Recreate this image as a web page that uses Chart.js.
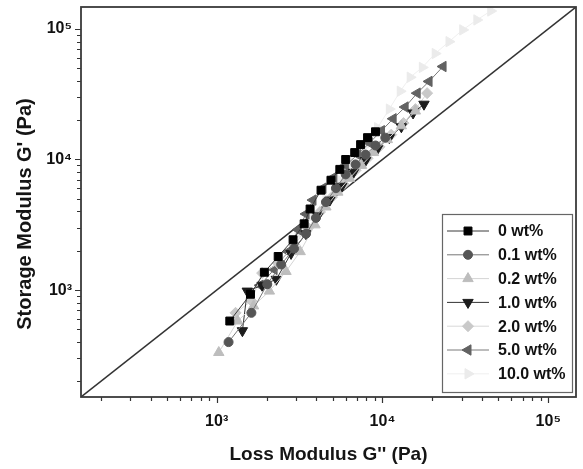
<!DOCTYPE html>
<html>
<head>
<meta charset="utf-8">
<script src="https://cdn.jsdelivr.net/npm/chart.js@4.4.1/dist/chart.umd.min.js"></script>
<style>
  html, body { margin: 0; padding: 0; background: #fff; }
</style>
</head>
<body>
<canvas id="myChart" width="583" height="469"></canvas>
<script>
// 축 범위와 눈금
const axisMin = 152;
const axisMax = 147000;
const decadeValues = [1e3, 1e4, 1e5];
const decadeLabels = ['10³', '10⁴', '10⁵'];
const tickMultipliers = [1, 2, 3, 4, 5, 6, 7, 8, 9];
const tickExponents = [2, 3, 4, 5];

// 시리즈 이름
const seriesNames = ['0 wt%', '0.1 wt%', '0.2 wt%', '1.0 wt%', '2.0 wt%', '5.0 wt%', '10.0 wt%'];

// Loss modulus G'' (x) / Storage modulus G' (y), Pa
const loss0 = [1200, 1600, 1940, 2350, 2890, 3370, 3660, 4260, 4890, 5530, 6000, 6800, 7380, 8130, 9080];
const stor0 = [580, 930, 1370, 1810, 2430, 3220, 4180, 5820, 6940, 8400, 10000, 11300, 13000, 14700, 16300];

const loss01 = [1180, 1620, 2020, 2450, 2930, 3460, 3970, 4560, 5240, 6000, 6890, 7910, 9080, 10400];
const stor01 = [400, 670, 1110, 1570, 2080, 2700, 3570, 4720, 6030, 7690, 9160, 10900, 12800, 14700];

const loss02 = [1030, 1340, 1670, 2080, 2620, 3190, 3920, 4560, 5380, 6340, 7480, 8830, 10700, 13000, 15800];
const stor02 = [333, 580, 757, 983, 1390, 1970, 3160, 4330, 5620, 7180, 9010, 11300, 14200, 18100, 23500];

const loss1 = [1430, 1530, 1880, 2290, 2810, 3460, 4080, 4820, 5680, 6700, 7910, 9330, 11000, 13000, 15300, 17800];
const stor1 = [489, 983, 1090, 1210, 1910, 2700, 3700, 4890, 6240, 7980, 9820, 12100, 14700, 17800, 22700, 26500];

const loss2 = [1300, 1620, 1880, 2350, 2930, 3560, 4200, 4960, 5840, 6890, 8130, 9590, 11300, 13400, 15800, 18600];
const stor2 = [670, 826, 1350, 1600, 2230, 3000, 3960, 5150, 6470, 8260, 10200, 12500, 15500, 19000, 24300, 32200];

const loss5 = [1830, 2220, 2700, 3100, 3460, 3810, 4380, 5090, 6000, 7080, 8350, 9860, 11600, 13700, 16200, 19100, 23200];
const stor5 = [1090, 1440, 1970, 2900, 3830, 4890, 6030, 7310, 9010, 10900, 13400, 16600, 20500, 25200, 32200, 39600, 51500];

const loss10 = [3100, 3760, 4560, 5530, 6700, 7910, 9330, 11000, 12800, 14700, 17400, 20800, 25200, 30500, 37100, 45000];
const stor10 = [2700, 3700, 5070, 6940, 9480, 12800, 17500, 24300, 33300, 42600, 50700, 64700, 79800, 98200, 117000, 137000];

// G' = G'' 기준선
const diagonalEnds = [axisMin, axisMax];

const lossSets = [loss0, loss01, loss02, loss1, loss2, loss5, loss10];
const storSets = [stor0, stor01, stor02, stor1, stor2, stor5, stor10];

// 스타일
const markerColors = ['#000000', '#555555', '#bdbdbd', '#1c1c1c', '#c9c9c9', '#626262', '#ebebeb'];
const lineColors = ['#3a3a3a', '#777777', '#d4d4d4', '#333333', '#d8d8d8', '#7a7a7a', '#efefef'];
const markerStyles = ['rect', 'circle', 'triangle', 'triangle', 'rectRot', 'triangle', 'triangle'];
const markerRotations = [0, 0, 0, 180, 0, 270, 90];
const markerRadius = [5.6, 4.5, 6, 6, 5.5, 6, 6];

const tickValues = [];
tickExponents.forEach(e => {
    tickMultipliers.forEach(m => {
        const v = m * Math.pow(10, e);
        if (v >= axisMin && v <= axisMax) tickValues.push(v);
    });
});

function isDecade(v) {
    const l = Math.log10(v);
    return Math.abs(l - Math.round(l)) < 1e-9;
}

function tickLabel(v) {
    const i = decadeValues.indexOf(v);
    return i < 0 ? '' : decadeLabels[i];
}

function drawMarker(ctx, style, rot, x, y, r, color) {
    ctx.save();
    ctx.translate(x, y);
    ctx.rotate(rot * Math.PI / 180);
    ctx.fillStyle = color;
    ctx.strokeStyle = color;
    ctx.lineWidth = 1;
    ctx.beginPath();
    if (style === 'rect') {
        const s = r * Math.SQRT1_2;
        ctx.rect(-s, -s, 2 * s, 2 * s);
    } else if (style === 'circle') {
        ctx.arc(0, 0, r, 0, Math.PI * 2);
    } else if (style === 'rectRot') {
        ctx.moveTo(0, -r); ctx.lineTo(r, 0); ctx.lineTo(0, r); ctx.lineTo(-r, 0);
        ctx.closePath();
    } else {
        let a = 0;
        ctx.moveTo(Math.sin(a) * r, -Math.cos(a) * r);
        a += Math.PI * 2 / 3;
        ctx.lineTo(Math.sin(a) * r, -Math.cos(a) * r);
        a += Math.PI * 2 / 3;
        ctx.lineTo(Math.sin(a) * r, -Math.cos(a) * r);
        ctx.closePath();
    }
    ctx.fill();
    ctx.stroke();
    ctx.restore();
}

// 틀, 눈금, y축 제목, 범례
const decorations = {
    id: 'decorations',
    afterDraw(chart) {
        const { ctx, chartArea: a, scales } = chart;
        ctx.save();
        ctx.strokeStyle = '#333';
        ctx.lineWidth = 1.2;
        ctx.beginPath();
        scales.x.ticks.forEach(t => {
            const px = Math.round(scales.x.getPixelForValue(t.value)) + 0.5;
            const len = isDecade(t.value) ? 6 : 4;
            ctx.moveTo(px, a.bottom);
            ctx.lineTo(px, a.bottom + len);
        });
        scales.y.ticks.forEach(t => {
            const py = Math.round(scales.y.getPixelForValue(t.value)) + 0.5;
            const len = isDecade(t.value) ? 6 : 4;
            ctx.moveTo(a.left, py);
            ctx.lineTo(a.left - len, py);
        });
        ctx.stroke();

        ctx.lineWidth = 1.8;
        ctx.strokeStyle = '#3a3a3a';
        ctx.strokeRect(a.left, a.top, a.right - a.left, a.bottom - a.top);

        // y축 제목
        ctx.save();
        ctx.translate(25, 214);
        ctx.rotate(-Math.PI / 2);
        ctx.fillStyle = '#151515';
        ctx.font = 'bold 20px "Liberation Sans", Arial, sans-serif';
        ctx.textAlign = 'center';
        ctx.textBaseline = 'middle';
        ctx.fillText("Storage Modulus G' (Pa)", 0, 0);
        ctx.restore();

        // 범례
        const bx = 442, by = 214, bw = 130, bh = 178;
        ctx.fillStyle = '#fff';
        ctx.fillRect(bx, by, bw, bh);
        ctx.lineWidth = 1.2;
        ctx.strokeStyle = '#666';
        ctx.strokeRect(bx + 0.5, by + 0.5, bw, bh);
        ctx.font = 'bold 16px "Liberation Sans", Arial, sans-serif';
        ctx.textAlign = 'left';
        ctx.textBaseline = 'middle';
        seriesNames.forEach((name, i) => {
            const ry = 231 + i * 23.8;
            ctx.strokeStyle = lineColors[i];
            ctx.lineWidth = 1;
            ctx.beginPath();
            ctx.moveTo(447, ry);
            ctx.lineTo(489, ry);
            ctx.stroke();
            drawMarker(ctx, markerStyles[i], markerRotations[i], 468, ry, markerRadius[i], markerColors[i]);
            ctx.fillStyle = '#111';
            ctx.fillText(name, 498, ry + 1);
        });
        ctx.restore();
    }
};

const datasets = seriesNames.map((name, i) => ({
    label: name,
    data: lossSets[i].map((x, k) => ({ x: x, y: storSets[i][k] })),
    showLine: true,
    borderColor: lineColors[i],
    borderWidth: 1,
    pointStyle: markerStyles[i],
    rotation: markerRotations[i],
    pointRadius: markerRadius[i],
    pointBackgroundColor: markerColors[i],
    pointBorderColor: markerColors[i],
    pointBorderWidth: 1,
    order: i
}));

datasets.push({
    label: 'diagonal',
    data: diagonalEnds.map(v => ({ x: v, y: v })),
    showLine: true,
    borderColor: '#333',
    borderWidth: 1.5,
    pointRadius: 0,
    order: 20
});

const tickFont = { family: '"Liberation Sans", Arial, sans-serif', size: 16, weight: 'bold' };

const ctx = document.getElementById('myChart').getContext('2d');
const chart = new Chart(ctx, {
    type: 'scatter',
    data: { datasets: datasets },
    options: {
        responsive: false,
        animation: false,
        layout: { padding: { top: 4, right: 3, left: 0, bottom: 0 } },
        plugins: { legend: { display: false }, tooltip: { enabled: false } },
        scales: {
            x: {
                type: 'logarithmic',
                min: axisMin,
                max: axisMax,
                afterFit: s => { s.height = 72; s.paddingLeft = 0; s.paddingRight = 0; },
                afterBuildTicks: s => { s.ticks = tickValues.map(v => ({ value: v })); },
                grid: { display: false, drawTicks: false },
                border: { display: false },
                ticks: { autoSkip: false, maxRotation: 0, padding: 15, color: '#111', font: tickFont, callback: v => tickLabel(v) },
                title: {
                    display: true,
                    text: "Loss Modulus G'' (Pa)",
                    color: '#151515',
                    font: { family: '"Liberation Sans", Arial, sans-serif', size: 19, weight: 'bold' },
                    padding: { top: 0, bottom: 3 }
                }
            },
            y: {
                type: 'logarithmic',
                min: axisMin,
                max: axisMax,
                afterFit: s => { s.width = 81; s.paddingTop = 0; s.paddingBottom = 0; },
                afterBuildTicks: s => { s.ticks = tickValues.map(v => ({ value: v })); },
                grid: { display: false, drawTicks: false },
                border: { display: false },
                ticks: { autoSkip: false, padding: 9, color: '#111', font: tickFont, callback: v => tickLabel(v) }
            }
        }
    },
    plugins: [decorations]
});
</script>
</body>
</html>
